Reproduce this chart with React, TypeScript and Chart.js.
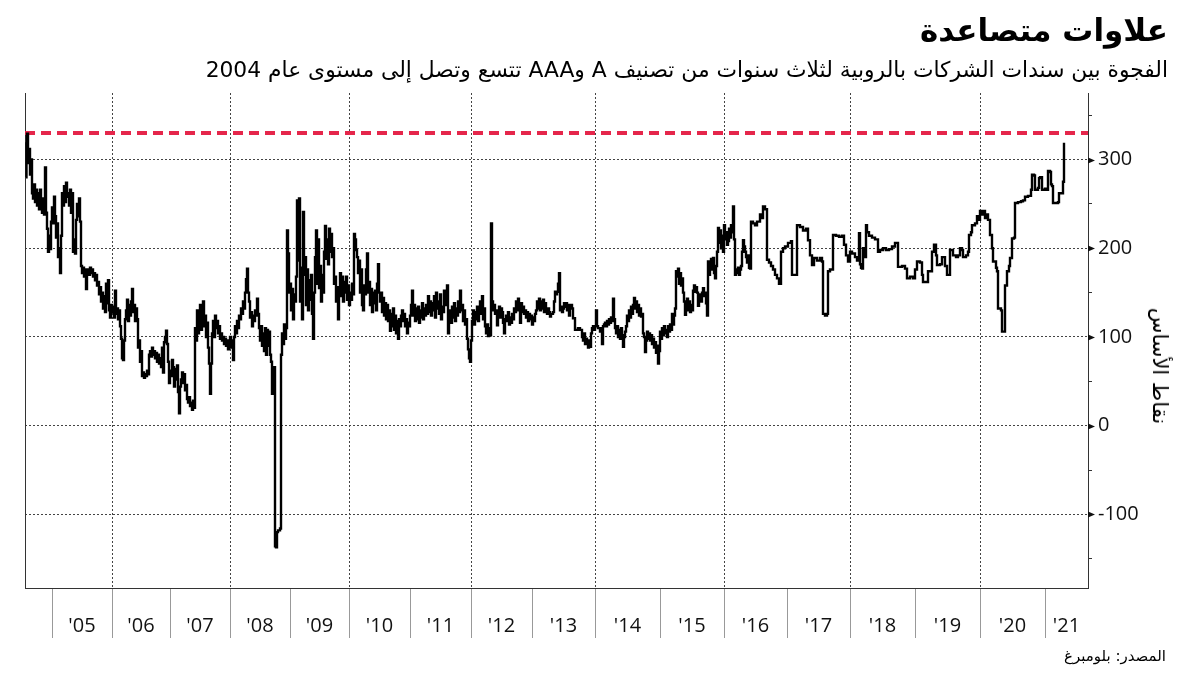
import React, { useEffect, useRef } from "react";
import { Chart, registerables } from "chart.js";

Chart.register(...registerables);

// ---------- text ----------
const TITLE = "علاوات متصاعدة";
const SUBTITLE =
  "الفجوة بين سندات الشركات بالروبية لثلاث سنوات من تصنيف A وAAA تتسع وتصل إلى مستوى عام 2004";
const SOURCE = "المصدر: بلومبرغ";
const Y_TITLE = "نقاط الأساس";

// ---------- x axis: observation index (trading observations, not calendar days) ----------
const yearLabels = ["'05", "'06", "'07", "'08", "'09", "'10", "'11", "'12", "'13", "'14", "'15", "'16", "'17", "'18", "'19", "'20", "'21"];
const yearStartIndex = [26, 86, 144, 204, 264, 323, 384, 445, 506, 569, 634, 698, 761, 824, 889, 954, 1019];
const gridYearLabels = ["'06", "'08", "'10", "'12", "'14", "'16", "'18", "'20"];
const axisStartIndex = -1;
const axisEndIndex = 1062;

// ---------- y axis ----------
const yMin = -183;
const yMax = 375;
const yLabelValues = [-100, 0, 100, 200, 300];
const yMinorValues = [-150, -50, 50, 150, 250, 350];
const level2004 = 330;

// ---------- series: [observation index, spread in basis points] ----------
const spread: [number, number][] = [
  // 2004 H2
  [0,280],[0.5,318],[1,329],[2,296],[3,312],[4,283],[5,300],[6,262],[7,256],[8,272],[9,252],[10,266],[11,248],[12,262],[13,244],[14,266],[15,250],[16,240],[17,256],[18,238],[19,291],[20,240],[21,222],[22,196],[23,214],[24,199],[25,230],
  // 2005
  [26,246],[27,228],[28,258],[29,236],[30,212],[31,228],[32,190],[33,200],[34,172],[35,214],[36,262],[37,248],[38,270],[39,252],[40,274],[41,258],[42,262],[43,248],[44,266],[45,240],[46,262],[47,196],[48,210],[49,194],[50,232],[51,250],[52,236],[53,256],[54,230],[55,180],[56,172],[57,178],[58,168],[59,176],[60,154],[61,172],[62,176],[63,170],[64,178],[65,172],[66,176],[67,168],[68,172],[69,164],[70,170],[71,158],[72,162],[73,148],[74,156],[75,140],[76,150],[77,132],[78,146],[79,128],[80,160],[81,138],[82,164],[83,130],[84,122],[85,136],
  // 2006
  [86,128],[87,134],[88,122],[89,152],[90,126],[91,132],[92,120],[93,130],[94,112],[95,98],[96,76],[97,74],[98,96],[99,120],[100,130],[101,142],[102,118],[103,136],[104,124],[105,140],[106,154],[107,128],[108,136],[109,118],[110,132],[111,120],[112,88],[113,96],[114,72],[115,84],[116,56],[117,60],[118,54],[119,58],[120,56],[121,62],[122,58],[123,80],[124,84],[125,78],[126,88],[127,80],[128,84],[129,76],[130,82],[131,72],[132,80],[133,70],[134,76],[135,66],[136,88],[137,60],[138,94],[139,100],[140,107],[141,92],[142,72],[143,48],
  // 2007
  [144,62],[145,56],[146,74],[147,66],[148,44],[149,64],[150,52],[151,68],[152,38],[153,14],[154,44],[155,52],[156,60],[157,48],[158,58],[159,40],[160,46],[161,30],[162,26],[163,32],[164,22],[165,26],[166,18],[167,28],[168,20],[169,110],[170,96],[171,130],[172,104],[173,122],[174,136],[175,108],[176,128],[177,140],[178,112],[179,124],[180,100],[181,116],[182,88],[183,70],[184,36],[185,70],[186,104],[187,118],[188,100],[189,124],[190,110],[191,118],[192,104],[193,112],[194,98],[195,104],[196,96],[197,100],[198,92],[199,98],[200,90],[201,96],[202,86],[203,94],
  // 2008
  [204,100],[205,88],[206,96],[207,74],[208,100],[209,112],[210,104],[211,118],[212,110],[213,124],[214,120],[215,132],[216,126],[217,140],[218,132],[219,150],[220,165],[221,177],[222,150],[223,140],[224,122],[225,128],[226,112],[227,124],[228,118],[229,130],[230,124],[231,143],[232,126],[233,110],[234,96],[235,112],[236,90],[237,104],[238,84],[239,110],[240,80],[241,108],[242,90],[243,106],[244,80],[245,72],[246,36],[247,60],[248,66],[249,-136],[250,-137],[251,-120],[252,-118],[253,-118],[254,-116],[255,80],[256,104],[257,92],[258,114],[259,98],[260,110],[261,220],[262,194],[263,150],
  // 2009
  [264,160],[265,130],[266,154],[267,120],[268,148],[269,140],[270,168],[271,254],[272,186],[273,256],[274,140],[275,178],[276,120],[277,241],[278,170],[279,190],[280,136],[281,176],[282,130],[283,164],[284,142],[285,170],[286,126],[287,98],[288,150],[289,190],[290,220],[291,160],[292,210],[293,155],[294,180],[295,140],[296,170],[297,150],[298,196],[299,225],[300,188],[301,210],[302,182],[303,222],[304,196],[305,216],[306,190],[307,200],[308,160],[309,168],[310,140],[311,156],[312,120],[313,150],[314,172],[315,146],[316,168],[317,140],[318,162],[319,150],[320,168],[321,142],[322,158],
  // 2010
  [323,136],[324,150],[325,142],[326,160],[327,148],[328,216],[329,210],[330,198],[331,190],[332,172],[333,186],[334,150],[335,176],[336,136],[337,130],[338,158],[339,148],[340,176],[341,194],[342,150],[343,162],[344,136],[345,154],[346,128],[347,150],[348,138],[349,152],[350,130],[351,160],[352,182],[353,150],[354,140],[355,150],[356,128],[357,144],[358,124],[359,138],[360,120],[361,136],[362,118],[363,130],[364,107],[365,126],[366,112],[367,132],[368,108],[369,124],[370,104],[371,118],[372,98],[373,120],[374,112],[375,124],[376,130],[377,118],[378,126],[379,112],[380,120],[381,104],[382,116],[383,112],
  // 2011
  [384,124],[385,136],[386,152],[387,124],[388,136],[389,118],[390,132],[391,120],[392,134],[393,116],[394,130],[395,122],[396,138],[397,120],[398,132],[399,124],[400,136],[401,126],[402,146],[403,128],[404,140],[405,124],[406,138],[407,130],[408,146],[409,122],[410,150],[411,132],[412,140],[413,126],[414,148],[415,120],[416,134],[417,128],[418,152],[419,136],[420,144],[421,158],[422,104],[423,118],[424,130],[425,116],[426,134],[427,122],[428,138],[429,118],[430,132],[431,124],[432,140],[433,128],[434,152],[435,130],[436,136],[437,118],[438,130],[439,114],[440,120],[441,98],[442,86],[443,76],[444,72],
  // 2012
  [445,96],[446,118],[447,130],[448,114],[449,128],[450,120],[451,134],[452,118],[453,130],[454,140],[455,126],[456,146],[457,120],[458,132],[459,112],[460,104],[461,114],[462,101],[463,110],[464,102],[465,228],[466,140],[467,130],[468,136],[469,126],[470,130],[471,113],[472,124],[473,134],[474,122],[475,132],[476,128],[477,116],[478,104],[479,120],[480,124],[481,118],[482,128],[483,114],[484,122],[485,116],[486,126],[487,120],[488,132],[489,128],[490,140],[491,130],[492,143],[493,132],[494,116],[495,138],[496,128],[497,134],[498,126],[499,130],[500,122],[501,128],[502,118],[503,126],[504,120],[505,124],
  // 2013
  [506,114],[507,122],[508,118],[509,126],[510,130],[511,140],[512,132],[513,143],[514,130],[515,140],[516,132],[517,142],[518,128],[519,138],[520,130],[521,126],[522,132],[523,128],[524,123],[525,126],[526,126],[527,128],[528,140],[529,151],[530,148],[531,151],[532,160],[533,172],[534,130],[535,134],[536,128],[537,132],[538,138],[539,134],[540,138],[541,130],[542,136],[543,124],[544,134],[545,136],[546,132],[547,121],[549,108],[552,110],[554,108],[556,100],[557,96],[558,104],[559,92],[560,98],[561,94],[562,88],[563,96],[564,89],[565,104],[566,110],[567,112],[568,108],
  // 2014
  [569,112],[570,130],[571,112],[572,110],[574,106],[575,110],[576,92],[577,112],[578,114],[579,116],[580,112],[581,118],[582,114],[583,120],[584,116],[585,122],[586,118],[587,143],[588,120],[589,110],[590,104],[591,112],[592,100],[593,108],[594,98],[595,110],[596,102],[597,89],[598,100],[599,106],[600,112],[601,124],[602,118],[603,130],[604,122],[605,134],[606,126],[607,136],[608,144],[609,132],[610,140],[611,128],[612,136],[613,124],[614,132],[615,123],[616,126],[617,104],[618,100],[619,83],[620,96],[621,106],[622,98],[623,104],[624,96],[625,102],[626,92],[627,98],[628,88],[629,94],[630,82],[631,90],[632,70],[633,84],
  // 2015
  [634,106],[635,98],[636,110],[637,102],[638,112],[639,104],[640,108],[641,100],[642,112],[643,106],[644,114],[645,108],[646,126],[647,114],[648,124],[649,132],[650,174],[651,168],[652,177],[653,160],[654,172],[655,158],[656,166],[657,150],[658,140],[659,125],[660,132],[661,143],[662,130],[663,140],[664,128],[665,136],[666,130],[667,152],[668,158],[669,151],[670,156],[671,150],[672,135],[673,142],[674,148],[675,140],[676,150],[677,155],[678,146],[679,150],[680,138],[681,124],[682,185],[683,170],[684,178],[685,188],[686,176],[687,189],[688,172],[689,166],[690,180],[691,196],[692,223],[693,206],[694,220],[695,200],[696,214],[697,196],
  // 2016
  [698,226],[699,210],[700,218],[701,204],[702,208],[703,222],[704,212],[705,226],[706,218],[707,247],[708,210],[709,170],[710,176],[711,172],[712,178],[713,170],[714,176],[715,180],[716,196],[717,209],[718,202],[719,196],[720,190],[721,184],[722,192],[723,178],[724,177],[725,230],[727,228],[729,226],[731,230],[734,238],[736,234],[737,247],[739,244],[741,187],[743,184],[745,180],[747,176],[749,170],[751,166],[753,160],[755,196],[757,200],[759,202],
  // 2017
  [762,206],[765,208],[766,170],[770,170],[771,226],[774,224],[777,220],[780,222],[782,209],[784,192],[786,181],[788,189],[791,186],[794,189],[796,185],[797,126],[799,124],[801,126],[802,174],[804,176],[807,215],[810,214],[813,213],[816,214],[818,204],[820,192],[822,185],
  // 2018
  [824,196],[826,194],[829,190],[831,186],[833,217],[834,182],[835,178],[836,177],[837,200],[838,190],[840,226],[841,218],[843,214],[846,212],[849,210],[852,196],[854,198],[857,200],[860,198],[863,199],[866,202],[869,206],[871,206],[872,179],[876,180],[879,177],[881,166],[884,168],[887,166],
  // 2019
  [889,176],[891,185],[894,184],[896,170],[897,162],[900,162],[902,174],[905,174],[906,196],[908,204],[910,192],[911,181],[914,182],[916,190],[919,180],[921,170],[923,170],[924,198],[927,192],[930,190],[932,192],[934,200],[936,198],[937,190],[940,192],[942,196],[943,215],[945,218],[946,226],[949,228],[951,236],[953,232],
  // 2020
  [954,242],[956,238],[957,242],[959,234],[961,238],[962,232],[964,215],[966,200],[967,185],[970,178],[971,174],[972,132],[975,130],[976,106],[978,106],[979,158],[981,174],[983,180],[984,189],[986,211],[988,212],[989,251],[992,252],[995,253],[997,254],[999,258],[1002,259],[1005,266],[1006,283],[1008,282],[1009,266],[1012,268],[1013,279],[1014,280],[1016,266],
  // 2021
  [1019,267],[1021,266],[1022,287],[1024,286],[1025,272],[1026,270],[1027,251],[1030,251],[1032,252],[1033,262],[1035,262],[1037,275],[1038,319],
];

// ---------- derived tick tables ----------
const labelByValue = new Map<number, string>();
const midpoints: number[] = yearStartIndex.map((start, i) => {
  const end = i + 1 < yearStartIndex.length ? yearStartIndex[i + 1] : axisEndIndex;
  const mid = (start + end) / 2;
  labelByValue.set(mid, yearLabels[i]);
  return mid;
});
const boundarySet = new Set<number>(yearStartIndex);
const gridSet = new Set<number>(
  gridYearLabels.map((l) => yearStartIndex[yearLabels.indexOf(l)])
);
const xTickValues = [...yearStartIndex, ...midpoints].sort((a, b) => a - b);
const yMajorSet = new Set<number>(yLabelValues);
const yTickValues = [...yLabelValues, ...yMinorValues].sort((a, b) => a - b);

const TRANSPARENT = "rgba(0,0,0,0)";
const NUM_FONT = '"Open Sans", "DejaVu Sans", sans-serif';
const AR_FONT = '"DejaVu Sans", sans-serif';

const majorTickMarkers = {
  id: "majorTickMarkers",
  afterDraw(chart: any) {
    const s = chart.scales.y;
    const ctx = chart.ctx;
    ctx.save();
    ctx.fillStyle = "#111";
    for (const v of yLabelValues) {
      const py = Math.round(s.getPixelForValue(v)) + 0.5;
      ctx.beginPath();
      ctx.moveTo(s.left, py - 3);
      ctx.lineTo(s.left + 7, py);
      ctx.lineTo(s.left, py + 3);
      ctx.closePath();
      ctx.fill();
    }
    ctx.restore();
  },
};

export default function App() {
  const ref = useRef<HTMLCanvasElement>(null);

  useEffect(() => {
    const canvas = ref.current;
    if (!canvas) return;
    const chart = new Chart(canvas, {
      type: "line",
      data: {
        datasets: [
          {
            label: "spread",
            data: spread.map(([x, y]) => ({ x, y })),
            borderColor: "#000",
            borderWidth: 2.4,
            pointRadius: 0,
            stepped: true,
            fill: false,
          },
          {
            label: "2004 level",
            data: [
              { x: axisStartIndex, y: level2004 },
              { x: axisEndIndex, y: level2004 },
            ],
            borderColor: "#e5264b",
            borderWidth: 4,
            borderDash: [10, 6],
            pointRadius: 0,
            fill: false,
          },
        ],
      },
      options: {
        responsive: false,
        animation: false,
        events: [],
        layout: { padding: { top: 93, left: 25, right: 0, bottom: 0 } },
        plugins: {
          legend: { display: false },
          tooltip: { enabled: false },
          title: { display: false },
        },
        scales: {
          x: {
            type: "linear",
            position: "bottom",
            min: axisStartIndex,
            max: axisEndIndex,
            afterBuildTicks: (s: any) => {
              s.ticks = xTickValues.map((v) => ({ value: v }));
            },
            afterFit: (s: any) => {
              s.height = 88;
            },
            ticks: {
              autoSkip: false,
              maxRotation: 0,
              minRotation: 0,
              padding: -24,
              color: "#111",
              font: { family: NUM_FONT, size: 20 },
              callback: (v: any) => labelByValue.get(Number(v)) ?? "",
            },
            grid: {
              drawOnChartArea: true,
              drawTicks: true,
              tickLength: 50,
              lineWidth: 1,
              color: (c: any) =>
                c.tick && gridSet.has(c.tick.value) ? "#444" : TRANSPARENT,
              tickColor: (c: any) =>
                c.tick && boundarySet.has(c.tick.value) ? "#999" : TRANSPARENT,
              tickWidth: 1,
              tickBorderDash: [],
            },
            border: { display: true, color: "#333", width: 1, dash: [2, 2] },
          },
          y: {
            type: "linear",
            position: "right",
            min: yMin,
            max: yMax,
            afterBuildTicks: (s: any) => {
              s.ticks = yTickValues.map((v) => ({ value: v }));
            },
            afterFit: (s: any) => {
              s.width = 114;
            },
            ticks: {
              padding: 6,
              color: "#111",
              font: { family: NUM_FONT, size: 20 },
              callback: (v: any) => (yMajorSet.has(Number(v)) ? String(v) : ""),
            },
            grid: {
              drawOnChartArea: true,
              drawTicks: true,
              tickLength: 4,
              lineWidth: 1,
              color: (c: any) =>
                c.tick && yMajorSet.has(c.tick.value) ? "#444" : TRANSPARENT,
              tickColor: (c: any) =>
                c.tick && yMajorSet.has(c.tick.value) ? TRANSPARENT : "#333",
              tickBorderDash: [],
            },
            border: { display: true, color: "#333", width: 1, dash: [2, 2] },
          },
          yl: {
            type: "linear",
            position: "left",
            display: true,
            min: yMin,
            max: yMax,
            afterFit: (s: any) => {
              s.width = 0;
            },
            ticks: { display: false },
            grid: { display: false, drawTicks: false },
            border: { display: true, color: "#333", width: 1 },
          },
        },
      } as any,
      plugins: [majorTickMarkers],
    });
    return () => chart.destroy();
  }, []);

  return (
    <div
      style={{
        position: "relative",
        width: 1202,
        height: 676,
        overflow: "hidden",
        background: "#fff",
      }}
    >
      <style>{"html,body{margin:0;padding:0;background:#fff;}"}</style>
      <canvas
        ref={ref}
        width={1202}
        height={676}
        style={{ position: "absolute", left: 0, top: 0, width: 1202, height: 676 }}
      />
      <div
        dir="rtl"
        style={{
          position: "absolute",
          right: 34,
          top: 12,
          fontFamily: AR_FONT,
          fontWeight: "bold",
          fontSize: 31,
          lineHeight: "36px",
          color: "#000",
          whiteSpace: "nowrap",
        }}
      >
        {TITLE}
      </div>
      <div
        dir="rtl"
        style={{
          position: "absolute",
          right: 34,
          top: 55,
          fontFamily: AR_FONT,
          fontSize: 21.8,
          lineHeight: "30px",
          color: "#000",
          whiteSpace: "nowrap",
        }}
      >
        {SUBTITLE}
      </div>
      <div
        dir="rtl"
        style={{
          position: "absolute",
          left: 1160,
          top: 366,
          transform: "translate(-50%, -50%) rotate(90deg)",
          fontFamily: AR_FONT,
          fontSize: 21,
          lineHeight: "24px",
          color: "#000",
          whiteSpace: "nowrap",
        }}
      >
        {Y_TITLE}
      </div>
      <div
        dir="rtl"
        style={{
          position: "absolute",
          right: 36,
          top: 646,
          fontFamily: AR_FONT,
          fontSize: 15,
          lineHeight: "20px",
          color: "#000",
          whiteSpace: "nowrap",
        }}
      >
        {SOURCE}
      </div>
    </div>
  );
}
